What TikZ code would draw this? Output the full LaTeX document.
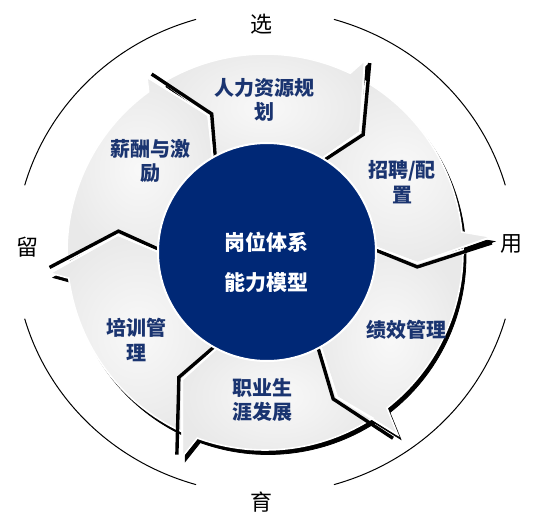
\documentclass[tikz,border=0pt]{standalone}
\usepackage{fontspec}
\setmainfont{Noto Sans CJK SC}
\usepackage{tikz}
\usetikzlibrary{calc,positioning}
\definecolor{corenavy}{RGB}{0,40,118}
\definecolor{labelnavy}{RGB}{26,52,112}
\tikzset{
        segment/.style = {draw=white, line width=1.6pt,
            inner color=gray!5, outer color=gray!17},
        segshadow/.style = {fill=black, draw=black, line width=0.8pt},
        tipshadow/.style = {draw=black, line width=3.4pt},
        tipgap/.style = {draw=white, line width=1.8pt},
        core/.style = {circle, fill=corenavy, draw=white,
            line width=2pt, inner sep=0pt, minimum size=218pt},
        seglabel/.style = {text=labelnavy, align=center,
            font=\fontsize{20}{24.5}\selectfont\bfseries},
        corelabel/.style = {text=white, align=center,
            font=\fontsize{21}{40}\selectfont\bfseries},
        axislabel/.style = {font=\fontsize{22}{26}\selectfont},
        ringarc/.style = {draw, line width=1pt},
    }
% tail notch angles (#1-#4), head angles (#5-#9)
\newcommand{\ringpath}[9]{(#1-3:198pt) arc[start angle=#1-3, end angle=#5+2, radius=198pt]
    -- (#5:#6pt) -- (#7:#8pt) -- (#9:96pt) arc[start angle=#9, end angle=#4, radius=96pt]
    -- (#2:#3pt) -- cycle}

\begin{document}
\begin{tikzpicture}
    \useasboundingbox (-265pt,-279pt) rectangle (276pt,252pt);
    \coordinate (c) at (0,0);

    % outer broken ring
    \foreach \a in {0,90,180,270}
        \draw[ringarc] ($(c)+(\a+16:250pt and 242pt)$)
            arc[start angle=\a+16, end angle=\a+74, x radius=250pt, y radius=242pt];

    % shadows of the arrows
    \begin{scope}[shift={(3pt,-4.5pt)}]
        \fill[segshadow] \ringpath{124}{112.6}{148}{122}{62.5}{216}{51.6}{153}{62.3};
        \fill[segshadow] \ringpath{62.5}{51.6}{153}{62.3}{3.8}{227}{-4.1}{153}{6.3};
        \fill[segshadow] \ringpath{3.8}{-4.1}{153}{6.3}{-54}{226}{-63.6}{162}{-57.7};
        \fill[segshadow] \ringpath{-54}{-63.6}{162}{-57.7}{-112}{221}{-123}{152}{-114};
        \fill[segshadow] \ringpath{-112}{-123}{152}{-114}{-174.4}{216}{-186.6}{148}{-177.3};
        \fill[segshadow] \ringpath{-174.4}{-186.6}{148}{-177.3}{-236}{211}{-247.4}{148}{-238};
    \end{scope}

    % the six arrows
    \shade[segment] \ringpath{124}{112.6}{148}{122}{62.5}{216}{51.6}{153}{62.3};
    \shade[segment] \ringpath{62.5}{51.6}{153}{62.3}{3.8}{227}{-4.1}{153}{6.3};
    \shade[segment] \ringpath{3.8}{-4.1}{153}{6.3}{-54}{226}{-63.6}{162}{-57.7};
    \shade[segment] \ringpath{-54}{-63.6}{162}{-57.7}{-112}{221}{-123}{152}{-114};
    \shade[segment] \ringpath{-112}{-123}{152}{-114}{-174.4}{216}{-186.6}{148}{-177.3};
    \shade[segment] \ringpath{-174.4}{-186.6}{148}{-177.3}{-236}{211}{-247.4}{148}{-238};

    % arrow heads
    \foreach \ao/\ro/\am/\rm/\ai in {124/211/112.6/148/122, 62.5/216/51.6/153/62.3,
            3.8/227/-4.1/153/6.3, -54/226/-63.6/162/-57.7,
            -112/221/-123/152/-114, -174.4/216/-186.6/148/-177.3} {
        \draw[tipshadow] (\ao-1.5:\ro pt) -- (\am-1.5:\rm pt) -- (\ai-1.5:96pt);
        \draw[tipgap] (\ao:\ro pt) -- (\am:\rm pt) -- (\ai:96pt);
    }

    \node[core] (core) at ($(c)+(2pt,0)$) {};
    \node[corelabel] (model) at ($(core)+(0,-10pt)$) {岗位体系\\能力模型};

    \node[seglabel] (plan) at ($(core)+(-2pt,152pt)$) {人力资源规\\划};
    \node[seglabel] (recruit) at ($(core)+(135pt,70pt)$) {招聘/配\\置};
    \node[seglabel] (perform) at ($(core)+(139pt,-78pt)$) {绩效管理};
    \node[seglabel] (career) at ($(core)+(-4pt,-148pt)$) {职业生\\涯发展};
    \node[seglabel] (training) at ($(core)+(-130pt,-88pt)$) {培训管\\理};
    \node[seglabel] (reward) at ($(core)+(-116pt,91pt)$) {薪酬与激\\励};

    \node[axislabel] (xuan) at ($(core)+(-5pt,228pt)$) {选};
    \node[axislabel] (yong) at ($(core)+(244pt,8pt)$) {用};
    \node[axislabel] (yu) at ($(core)+(-5pt,-250pt)$) {育};
    \node[axislabel] (liu) at ($(core)+(-239pt,5pt)$) {留};
\end{tikzpicture}
\end{document}
